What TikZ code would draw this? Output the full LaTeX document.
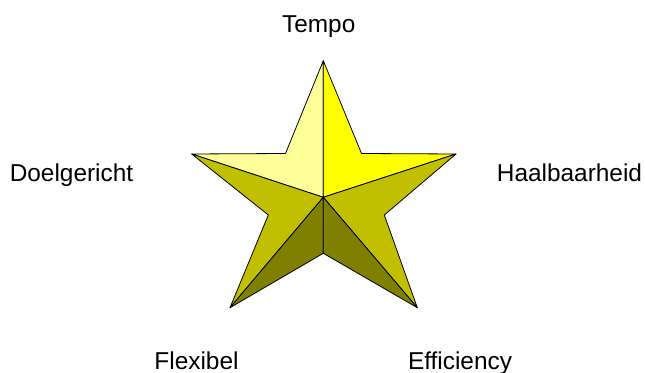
\documentclass[tikz,border=0pt]{standalone}
\usepackage{fontspec}
\setmainfont{Liberation Sans}
\definecolor{starpale}{RGB}{255,255,153}
\definecolor{starbright}{RGB}{255,255,0}
\definecolor{starmid}{RGB}{192,192,0}
\definecolor{stardark}{RGB}{128,128,0}
\begin{document}
\begin{tikzpicture}[x=0.75pt,y=-0.75pt,
  lbl/.style={anchor=base,font=\fontsize{18.3}{22}\selectfont},
  face/.style={draw=black,line width=0.6pt,line join=round}]
 \useasboundingbox (0,0) rectangle (645,373);
 \foreach \n/\x/\y in {top/323.3/60.7,ul/285.5/153.5,ur/361.5/153.5,
   lp/191.7/154,rp/456/154,ll/268.3/215,lr/384.3/215,
   bl/230/307.7,br/417.3/307.7,bi/323.3/253.3,c/323.3/197.3}
   \coordinate (\n) at (\x,\y);
 \filldraw[face,fill=starpale]   (top)--(ul)--(lp)--(c)--cycle;
 \filldraw[face,fill=starbright] (top)--(c)--(rp)--(ur)--cycle;
 \filldraw[face,fill=starmid]    (lp)--(c)--(bl)--(ll)--cycle;
 \filldraw[face,fill=starmid]    (rp)--(lr)--(br)--(c)--cycle;
 \filldraw[face,fill=stardark]   (c)--(bl)--(bi)--cycle;
 \filldraw[face,fill=stardark]   (c)--(bi)--(br)--cycle;
 \node[lbl] (tempo) at (318.7,32.7) {Tempo};
 \node[lbl] (doel) at (71.5,182) {Doelgericht};
 \node[lbl] (haal) at (569.5,182) {Haalbaarheid};
 \node[lbl] (flex) at (196.5,369) {Flexibel};
 \node[lbl] (eff) at (460,369) {Efficiency};
\end{tikzpicture}
\end{document}
